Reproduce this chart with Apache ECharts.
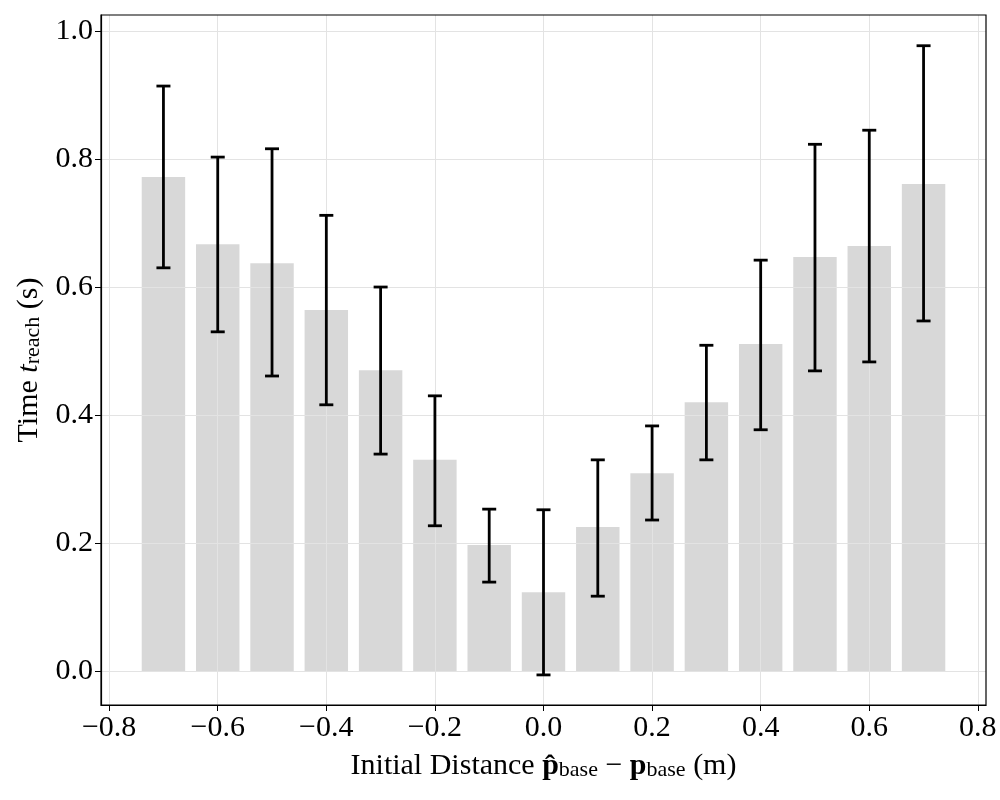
<!DOCTYPE html>
<html><head><meta charset="utf-8">
<script src="https://cdn.jsdelivr.net/npm/echarts@6/dist/echarts.min.js"></script>
<style>html,body{margin:0;padding:0;background:#fff}#c{width:1000px;height:800px}</style>
</head><body><div id="c"></div>
<script>
const distances = [-0.7,-0.6,-0.5,-0.4,-0.3,-0.2,-0.1,0.0,0.1,0.2,0.3,0.4,0.5,0.6,0.7];
const meanTimes = [0.772,0.667,0.637,0.564,0.470,0.330,0.197,0.123,0.225,0.309,0.420,0.511,0.647,0.664,0.761];
const errLow    = [0.630,0.530,0.461,0.416,0.339,0.227,0.139,-0.006,0.117,0.236,0.330,0.377,0.469,0.483,0.547];
const errHigh   = [0.914,0.803,0.816,0.712,0.600,0.430,0.253,0.252,0.330,0.383,0.509,0.642,0.823,0.845,0.977];
const xTicks = [-0.8,-0.6,-0.4,-0.2,0.0,0.2,0.4,0.6,0.8];
const yTicks = [0.0,0.2,0.4,0.6,0.8,1.0];
const barWidthUnits = 0.08;

const FONT = '"Liberation Serif", "DejaVu Serif", serif';
const fmt = v => (v < 0 ? '\u2212' : '') + Math.abs(v).toFixed(1);

const chart = echarts.init(document.getElementById('c'));
chart.setOption({
  animation: false,
  backgroundColor: '#fff',
  grid: {left: 101, right: 14, top: 15, bottom: 95, show: true, borderColor: '#000', borderWidth: 1.2, backgroundColor: 'transparent', z: 5},
  xAxis: {
    type: 'value', min: -0.815, max: 0.815, interval: 0.2, z: 3,
    axisLine: {show: true, onZero: false, lineStyle: {color: '#000', width: 1.2}},
    axisTick: {show: true, length: 6, lineStyle: {color: '#000', width: 1}, customValues: xTicks},
    axisLabel: {fontFamily: FONT, fontSize: 30, color: '#000', margin: 8, formatter: fmt, customValues: xTicks},
    splitLine: {show: true, lineStyle: {color: '#e3e3e3', width: 1}, customValues: xTicks},
    name: '{n|Initial Distance }{b|p\u0302}{s|base}{n| \u2212 }{b|p}{s|base}{n| (m)}',
    nameLocation: 'middle', nameGap: 40,
    nameTextStyle: {
      rich: {
        n: {fontFamily: FONT, fontSize: 30, color: '#000', verticalAlign: 'bottom', lineHeight: 36},
        b: {fontFamily: FONT, fontSize: 30, fontWeight: 'bold', color: '#000', verticalAlign: 'bottom', lineHeight: 36},
        s: {fontFamily: FONT, fontSize: 22, color: '#000', verticalAlign: 'bottom', lineHeight: 28}
      }
    }
  },
  yAxis: {
    type: 'value', min: -0.053, max: 1.025, z: 3,
    axisLine: {show: true, onZero: false, lineStyle: {color: '#000', width: 1.2}},
    axisTick: {show: true, length: 6, lineStyle: {color: '#000', width: 1}, customValues: yTicks},
    axisLabel: {fontFamily: FONT, fontSize: 30, color: '#000', margin: 8, formatter: fmt, customValues: yTicks},
    splitLine: {show: true, lineStyle: {color: '#e3e3e3', width: 1}, customValues: yTicks},
    name: '{n|Time }{i|t}{s|reach}{n| (s)}',
    nameLocation: 'middle', nameGap: 44, nameRotate: 90,
    nameTextStyle: {
      rich: {
        n: {fontFamily: FONT, fontSize: 30, color: '#000', verticalAlign: 'bottom', lineHeight: 36},
        i: {fontFamily: FONT, fontSize: 30, fontStyle: 'italic', color: '#000', verticalAlign: 'bottom', lineHeight: 36},
        s: {fontFamily: FONT, fontSize: 22, color: '#000', verticalAlign: 'bottom', lineHeight: 28}
      }
    }
  },
  series: [
    {
      type: 'custom',
      data: distances.map((d, i) => [d, meanTimes[i]]),
      renderItem: (params, api) => {
        const x = api.value(0), y = api.value(1);
        const p1 = api.coord([x, y]);
        const p0 = api.coord([x, 0]);
        const w = api.size([barWidthUnits, 0])[0];
        return {type: 'rect', shape: {x: p1[0] - w / 2, y: p1[1], width: w, height: p0[1] - p1[1]},
                style: {fill: '#d8d8d8'}};
      },
      z: 1
    },
    {
      type: 'custom',
      data: distances.map((d, i) => [d, errLow[i], errHigh[i]]),
      renderItem: (params, api) => {
        const x = api.value(0);
        const lo = api.coord([x, api.value(1)]);
        const hi = api.coord([x, api.value(2)]);
        const cap = 7;
        const st = {stroke: '#000', lineWidth: 2.8};
        return {type: 'group', children: [
          {type: 'line', shape: {x1: lo[0], y1: lo[1], x2: hi[0], y2: hi[1]}, style: st},
          {type: 'line', shape: {x1: lo[0] - cap, y1: lo[1], x2: lo[0] + cap, y2: lo[1]}, style: st},
          {type: 'line', shape: {x1: hi[0] - cap, y1: hi[1], x2: hi[0] + cap, y2: hi[1]}, style: st}
        ]};
      },
      z: 4
    }
  ]
});
</script></body></html>
